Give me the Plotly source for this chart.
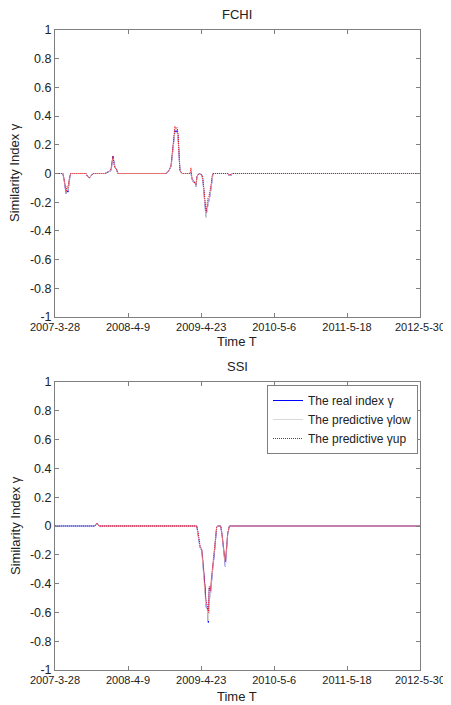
import datetime as dt
import plotly.graph_objects as go

START = "2007-3-28"
tick_dates = ["2007-3-28", "2008-4-9", "2009-4-23", "2010-5-6", "2011-5-18", "2012-5-30"]
y_ticks = [1, 0.8, 0.6, 0.4, 0.2, 0, -0.2, -0.4, -0.6, -0.8, -1]
y_ticktext = ["1", "0.8", "0.6", "0.4", "0.2", "0", "-0.2", "-0.4", "-0.6", "-0.8", "-1"]

# FCHI (days since start)
fchi_day = [0, 41, 49, 57, 62, 67, 75, 81, 161, 168, 178, 186, 197, 259, 275, 290, 300, 306, 311, 318, 326,
            575, 590, 601, 606, 611, 616, 621, 627, 632, 637, 642, 647, 658, 699, 704, 709, 717, 725, 730, 735, 746,
            761, 766, 772, 777, 782, 787, 792, 797, 803, 808, 813, 818, 896, 901, 906, 911, 917, 1890]
fchi_real = [0, 0, -0.06, -0.14, -0.11, -0.13, -0.04, 0, 0, -0.02, -0.03, -0.02, 0,
             0, 0.01, 0.02, 0.12, 0.07, 0.04, 0.03, 0,
             0, 0.02, 0.05, 0.12, 0.2, 0.27, 0.3, 0.29, 0.3, 0.26, 0.12, 0.02, 0,
             0, 0.01, -0.04, -0.06, -0.06, -0.09, -0.02, 0,
             -0.01, -0.05, -0.14, -0.25, -0.30, -0.25, -0.22, -0.2, -0.15, -0.1, -0.03, 0,
             0, -0.015, -0.005, -0.015, 0, 0]
fchi_low = [0, 0, -0.06, -0.14, -0.1, -0.12, -0.04, 0, 0, -0.02, -0.03, -0.02, 0,
            0, 0.01, 0.02, 0.11, 0.07, 0.04, 0.03, 0,
            0, 0.02, 0.05, 0.12, 0.19, 0.26, 0.29, 0.28, 0.29, 0.25, 0.11, 0.02, 0,
            0, 0.01, -0.04, -0.06, -0.06, -0.09, -0.02, 0,
            -0.01, -0.05, -0.14, -0.26, -0.31, -0.26, -0.23, -0.21, -0.15, -0.1, -0.03, 0,
            0, -0.015, -0.005, -0.015, 0, 0]
fchi_up = [0, 0, -0.05, -0.13, -0.09, -0.1, -0.03, 0, 0, -0.02, -0.03, -0.02, 0,
           0, 0.01, 0.03, 0.12, 0.06, 0.04, 0.03, 0,
           0, 0.02, 0.06, 0.14, 0.22, 0.29, 0.33, 0.31, 0.32, 0.28, 0.13, 0.02, 0,
           0, 0.04, -0.03, -0.05, -0.07, -0.08, -0.02, 0,
           -0.01, -0.04, -0.12, -0.24, -0.27, -0.22, -0.17, -0.16, -0.12, -0.08, -0.02, 0,
           0, -0.01, -0.005, -0.01, 0, 0]

# SSI
ssi_day = [0, 207, 212, 217, 222, 228, 734, 742, 751, 760, 768, 777, 782, 789, 794, 799, 804, 810, 817, 823,
           830, 837, 842, 858, 865, 872, 879, 882, 889, 894, 903, 1890]
ssi_real = [0, 0, 0.01, 0.02, 0.01, 0,
            0, -0.06, -0.15, -0.17, -0.29, -0.43, -0.56, -0.57, -0.67, -0.43,
            -0.49, -0.38, -0.29, -0.22, -0.1, -0.01, 0, 0, -0.06, -0.15,
            -0.22, -0.28, -0.15, -0.06, 0, 0]
ssi_low = [0, 0, 0.01, 0.02, 0.01, 0,
           0, -0.06, -0.15, -0.17, -0.3, -0.44, -0.57, -0.58, -0.66, -0.44,
           -0.5, -0.39, -0.3, -0.23, -0.1, -0.01, 0, 0, -0.06, -0.15,
           -0.22, -0.28, -0.15, -0.06, 0, 0]
ssi_up = [0, 0, 0.01, 0.02, 0.01, 0,
          0, -0.05, -0.14, -0.16, -0.27, -0.41, -0.52, -0.55, -0.6, -0.42,
          -0.45, -0.36, -0.26, -0.2, -0.09, -0.01, 0, 0, -0.06, -0.14,
          -0.2, -0.25, -0.14, -0.05, 0, 0]


def to_date(s):
    y, m, d = (int(p) for p in s.split("-"))
    return dt.date(y, m, d)


start = to_date(START)


def days_to_dates(days):
    return [start + dt.timedelta(days=d) for d in days]


# The page places the figure 8px from the top-left corner (default body margin)
OFF = 8
W, H = 451 - OFF, 705 - OFF


def px(x):
    return (x - OFF) / W


def py(y):
    return 1 - (y - OFF) / H


tickvals = [to_date(s) for s in tick_dates]
FONT = "Liberation Sans, Arial, sans-serif"
AX = "#7f7f7f"
TXT = "#222222"

fig = go.Figure()

series = [
    ("The real index γ", "#0000ff", "solid"),
    ("The predictive γlow", "#d9d9d9", "solid"),
    ("The predictive γup", "#ff0000", "1px,1px"),
]

for i, (days, vals_list) in enumerate([
    (fchi_day, [fchi_real, fchi_low, fchi_up]),
    (ssi_day, [ssi_real, ssi_low, ssi_up]),
]):
    xs = days_to_dates(days)
    suffix = "" if i == 0 else "2"
    for (name, color, dash), vals in zip(series, vals_list):
        fig.add_trace(go.Scatter(
            x=xs, y=vals, mode="lines", name=name,
            line=dict(color=color, width=1, dash=dash),
            xaxis="x" + suffix, yaxis="y" + suffix,
            showlegend=(i == 1),
        ))

xdom = [px(55), px(420)]
top_dom = [py(317), py(30)]
bot_dom = [py(670), py(382)]

xcommon = dict(
    range=[tickvals[0], tickvals[-1]], tickvals=tickvals, ticktext=tick_dates,
    showgrid=False, zeroline=False, showline=True, linecolor=AX, linewidth=1,
    mirror="allticks", ticks="inside", ticklen=4, tickcolor=AX, automargin=False,
    ticklabeloverflow="allow",
    tickfont=dict(family=FONT, size=11, color=TXT), domain=xdom,
)
ycommon = dict(
    range=[-1, 1], tickvals=y_ticks, ticktext=y_ticktext,
    showgrid=False, zeroline=False, showline=True, linecolor=AX, linewidth=1,
    mirror="allticks", ticks="inside", ticklen=4, tickcolor=AX, automargin=False,
    tickfont=dict(family=FONT, size=12.5, color=TXT),
)

fig.update_layout(
    width=W, height=H,
    margin=dict(l=0, r=0, t=0, b=0, autoexpand=False),
    paper_bgcolor="white", plot_bgcolor="white",
    font=dict(family=FONT, size=13, color=TXT),
    xaxis=dict(**xcommon, anchor="y"),
    yaxis=dict(**ycommon, domain=top_dom, anchor="x"),
    xaxis2=dict(**xcommon, anchor="y2"),
    yaxis2=dict(**ycommon, domain=bot_dom, anchor="x2"),
    legend=dict(
        x=px(418), y=py(385), xanchor="right", yanchor="top",
        bgcolor="white", bordercolor=AX, borderwidth=1,
        font=dict(family=FONT, size=12, color=TXT),
        tracegroupgap=0, itemwidth=30,
    ),
    showlegend=True,
)

annots = [
    ("FCHI", px((55 + 420) / 2), py(15), 0),
    ("Time T", px((55 + 420) / 2), py(341), 0),
    ("SSI", px((55 + 420) / 2), py(367), 0),
    ("Time T", px((55 + 420) / 2), py(696), 0),
    ("Similarity Index γ", px(15), py(173), -90),
    ("Similarity Index γ", px(15), py(526), -90),
]
for text, x, y, ang in annots:
    fig.add_annotation(text=text, x=x, y=y, xref="paper", yref="paper",
                       xanchor="center", yanchor="middle", showarrow=False,
                       textangle=ang, font=dict(family=FONT, size=13, color=TXT))

fig.write_html("out.html", post_script="document.body.style.overflow='hidden';")
